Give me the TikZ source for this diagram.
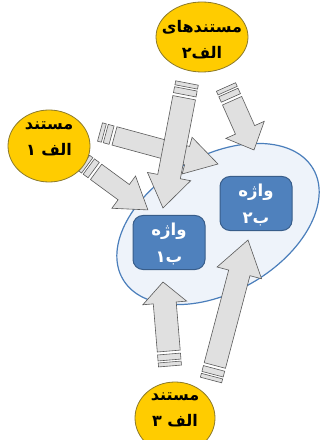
\documentclass[tikz,border=0pt]{standalone}
\usepackage{fontspec}
\newfontfamily\arabicfont[Script=Arabic]{DejaVu Sans}
\TeXXeTstate=1
\usetikzlibrary{shapes.geometric}
\definecolor{docfill}{HTML}{FFCC00}
\definecolor{docline}{HTML}{8C7A2A}
\definecolor{setfill}{HTML}{EEF3FA}
\definecolor{setline}{HTML}{4A7EBB}
\definecolor{termfill}{HTML}{4F81BD}
\definecolor{termline}{HTML}{385D8A}
\definecolor{arrfill}{HTML}{E0E0E0}
\definecolor{arrline}{HTML}{5A5A5A}
\tikzset{
  arrowshape/.style={fill=arrfill, draw=arrline, line width=0.6bp, line join=miter},
  docshape/.style={ellipse, fill=docfill, draw=docline, line width=0.8bp, inner sep=0pt},
  doctext/.style={font=\arabicfont\bfseries\fontsize{16bp}{26bp}\selectfont, align=center, text=black, inner sep=0pt},
  termbox/.style={rectangle, rounded corners=10bp, fill=termfill, draw=termline, line width=1bp,
    minimum width=72bp, minimum height=54bp, inner sep=0pt},
  termtext/.style={font=\arabicfont\bfseries\fontsize{16.5bp}{27bp}\selectfont, align=center, text=white, inner sep=0pt},
}
\newcommand\sarrow[5]{%
  \pgfmathanglebetweenpoints{\pgfpointanchor{#1}{center}}{\pgfpointanchor{#2}{center}}%
  \edef\sang{\pgfmathresult}%
  \pgfpointdiff{\pgfpointanchor{#1}{center}}{\pgfpointanchor{#2}{center}}%
  \pgfgetlastxy{\sdx}{\sdy}%
  \pgfmathsetmacro\slen{veclen(\sdx,\sdy)/1.00375}%
  \begin{scope}[shift={(#1)}, rotate=\sang, x=1bp, y=1bp]
    \draw[arrowshape] (0,-#3/2) rectangle (4,#3/2);
    \draw[arrowshape] (6,-#3/2) rectangle (12,#3/2);
    \draw[arrowshape] (15,-#3/2) -- (\slen-#5,-#3/2) -- (\slen-#5,-#4/2) -- (\slen,0)
      -- (\slen-#5,#4/2) -- (\slen-#5,#3/2) -- (15,#3/2) -- cycle;
  \end{scope}}
\begin{document}
\begin{tikzpicture}[x=1bp, y=-1bp]
\useasboundingbox (0,0) rectangle (323,440);
% set
\coordinate (setc) at (218,224);
\draw[fill=setfill, draw=setline, line width=1.2bp, rotate around={30:(setc)}]
  (setc) ellipse [x radius=110, y radius=68];
% terms
\node[termbox] (b1) at (169,242.5) {};
\node[termtext] (b1t) at (169,244) {واژه\\\beginR ب۱\endR};
\node[termbox] (b2) at (256,203.5) {};
\node[termtext] (b2t) at (256,205) {واژه\\\beginR ب۲\endR};
% arrow ends
\coordinate (a1t) at (100,132); \coordinate (a1h) at (218,164);
\coordinate (a2t) at (84,163);  \coordinate (a2h) at (148,210);
\coordinate (a3t) at (187,83);  \coordinate (a3h) at (163,208);
\coordinate (a4t) at (226,87);  \coordinate (a4h) at (254,150);
\coordinate (a5t) at (170,366); \coordinate (a5h) at (163,282);
\coordinate (a6t) at (211,380); \coordinate (a6h) at (248,240);
\sarrow{a1t}{a1h}{19}{38}{32}
\sarrow{a2t}{a2h}{19}{40}{30}
\sarrow{a3t}{a3h}{23}{44}{32}
\sarrow{a4t}{a4h}{21}{42}{22}
\sarrow{a5t}{a5h}{23}{44}{21}
\sarrow{a6t}{a6h}{22}{46}{34}
% documents
\node[docshape, minimum width=92bp, minimum height=70bp] (d2) at (202,37) {};
\node[doctext] (d2t) at (202,40) {مستندهای\\\beginR الف۲\endR};
\node[docshape, minimum width=82bp, minimum height=72bp] (d1) at (49,146) {};
\node[doctext] (d1t) at (49,139) {مستند\\\beginR الف ۱\endR};
\node[docshape, minimum width=80bp, minimum height=72bp] (d3) at (175,418) {};
\node[doctext] (d3t) at (175,410) {مستند\\\beginR الف ۳\endR};
\end{tikzpicture}
\end{document}
